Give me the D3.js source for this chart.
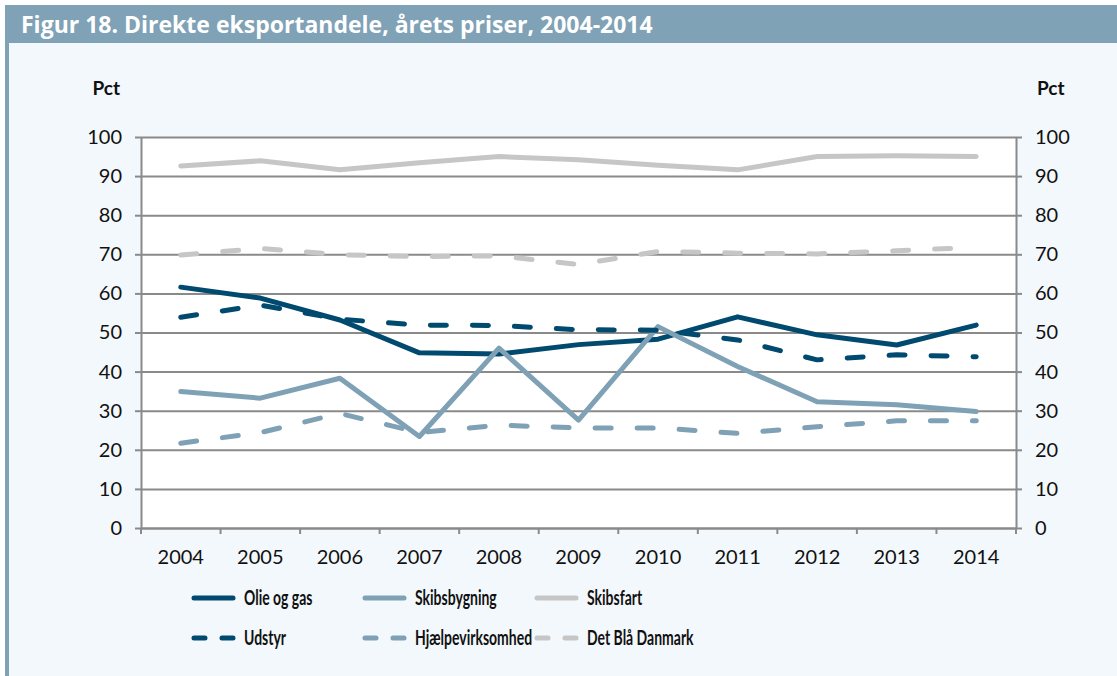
<!DOCTYPE html>
<html>
<head>
<meta charset="utf-8">
<script src="https://cdn.jsdelivr.net/npm/d3@7"></script>
<style>
  body { margin: 0; background: #ffffff; }
  svg { display: block; }
  text { font-family: Lato, "Noto Sans", sans-serif; }
</style>
</head>
<body>
<div id="content"></div>
<script>
// data
var years = ["2004","2005","2006","2007","2008","2009","2010","2011","2012","2013","2014"];
var olieOgGas       = [61.6, 58.8, 53.2, 44.8, 44.5, 46.9, 48.3, 54.0, 49.4, 46.8, 51.9];
var skibsbygning    = [34.9, 33.2, 38.3, 23.4, 46.0, 27.6, 51.5, 41.3, 32.3, 31.5, 29.8];
var skibsfart       = [92.6, 93.9, 91.6, 93.4, 95.0, 94.2, 92.8, 91.6, 95.0, 95.2, 95.0];
var udstyr          = [53.9, 57.0, 53.4, 51.9, 51.8, 50.7, 50.6, 48.1, 43.0, 44.3, 43.8];
var hjaelpevirksomhed = [21.7, 24.4, 29.3, 24.4, 26.3, 25.6, 25.6, 24.2, 25.9, 27.4, 27.4];
var detBlaaDanmark  = [69.8, 71.5, 69.9, 69.4, 69.6, 67.4, 70.7, 70.3, 70.1, 70.9, 71.8];
var yTicks = [0,10,20,30,40,50,60,70,80,90,100];

var title = "Figur 18. Direkte eksportandele, årets priser, 2004-2014";
var unitLabel = "Pct";

// layout
var width = 1117, height = 676;
var margin = {'left':141,'top':137,'right':101,'bottom':148};
var chart_width = width - margin['left'] - margin['right'];
var chart_height = height - margin['top'] - margin['bottom'];

var darkBlue = "#00496f", lightBlue = "#7fa1b5", grey = "#c6c6c6";
var axisGrey = "#8a8a8a";
var solidDash = null, lineDash = "16,26";

var series = [
  {name:"Olie og gas", values:olieOgGas, color:darkBlue, dash:solidDash},
  {name:"Skibsbygning", values:skibsbygning, color:lightBlue, dash:solidDash},
  {name:"Skibsfart", values:skibsfart, color:grey, dash:solidDash},
  {name:"Udstyr", values:udstyr, color:darkBlue, dash:lineDash},
  {name:"Hjælpevirksomhed", values:hjaelpevirksomhed, color:lightBlue, dash:lineDash},
  {name:"Det Blå Danmark", values:detBlaaDanmark, color:grey, dash:lineDash}
];

var svg = d3.select("#content").append("svg")
  .attr("width", width)
  .attr("height", height);

// frame: header band, left strip, light panel
svg.append("rect").attr("x",5).attr("y",5).attr("width",width-5).attr("height",38).attr("fill","#7fa2b6");
svg.append("rect").attr("x",5).attr("y",43).attr("width",width-5).attr("height",height-43).attr("fill","#f3f8fc");
svg.append("rect").attr("x",5).attr("y",43).attr("width",4).attr("height",height-43).attr("fill","#7fa2b6");

svg.append("text")
  .attr("x", 21).attr("y", 33)
  .attr("fill", "#ffffff")
  .attr("font-size", "23px")
  .attr("font-weight", "bold")
  .style("font-family", "'Open Sans', sans-serif")
  .text(title);

var x = d3.scaleBand().domain(years).range([0, chart_width]).padding(0);
var y = d3.scaleLinear().domain([0, 100]).range([chart_height, 0]);

var g = svg.append("g").attr("transform", "translate(" + margin['left'] + "," + margin['top'] + ")");

g.append("rect").attr("width", chart_width).attr("height", chart_height).attr("fill", "#ffffff");

// gridlines
var grid = g.append("g")
  .call(d3.axisLeft(y).tickValues(yTicks).tickSize(-chart_width).tickFormat(""));
grid.select(".domain").remove();
grid.selectAll("line").attr("stroke", axisGrey).attr("stroke-width", 2);

// left axis
var leftAxis = g.append("g")
  .call(d3.axisLeft(y).tickValues(yTicks).tickSize(6).tickPadding(13).tickSizeOuter(0));
// right axis
var rightAxis = g.append("g")
  .attr("transform", "translate(" + chart_width + ",0)")
  .call(d3.axisRight(y).tickValues(yTicks).tickSize(6).tickPadding(13).tickSizeOuter(0));

// bottom axis, labels at band centres, ticks at band edges
var bottomAxis = g.append("g")
  .attr("transform", "translate(0," + chart_height + ")")
  .call(d3.axisBottom(x).tickSize(0).tickPadding(22).tickSizeOuter(0));
bottomAxis.selectAll(".tick line").remove();
var edges = years.map(function(d){ return x(d); }).concat([chart_width]);
bottomAxis.selectAll(".edge")
  .data(edges)
  .enter()
  .append("line")
  .attr("x1", function(d){ return d; })
  .attr("x2", function(d){ return d; })
  .attr("y1", 0)
  .attr("y2", 6)
  .attr("stroke", axisGrey)
  .attr("stroke-width", 2);

[leftAxis, rightAxis, bottomAxis].forEach(function(a){
  a.select(".domain").attr("stroke", axisGrey).attr("stroke-width", 2);
  a.selectAll(".tick line").attr("stroke", axisGrey).attr("stroke-width", 2);
  a.selectAll("text").attr("font-size", "20px").attr("fill", "#111111")
    .style("font-family", "Lato, 'Noto Sans', sans-serif");
});

// unit labels
g.append("text").attr("x", -21).attr("y", -42).attr("text-anchor", "end")
  .attr("font-size", "19px").attr("font-weight", "bold").attr("fill", "#111").text(unitLabel);
g.append("text").attr("x", chart_width + 21).attr("y", -42).attr("text-anchor", "start")
  .attr("font-size", "19px").attr("font-weight", "bold").attr("fill", "#111").text(unitLabel);

// lines
var line = d3.line()
  .x(function(d,i){ return x(years[i]) + x.bandwidth()/2; })
  .y(function(d){ return y(d); });

g.selectAll(".series")
  .data(series)
  .enter()
  .append("path")
  .attr("class", "series")
  .attr("d", function(d){ return line(d.values); })
  .attr("fill", "none")
  .attr("stroke", function(d){ return d.color; })
  .attr("stroke-width", 5)
  .attr("stroke-linecap", "round")
  .attr("stroke-linejoin", "round")
  .attr("stroke-dasharray", function(d){ return d.dash; });

// legend, three columns, two rows
var legendX = [192, 363, 535];
var legendY = [598, 638];
var legend = svg.selectAll(".legend")
  .data(series)
  .enter()
  .append("g")
  .attr("class", "legend")
  .attr("transform", function(d,i){ return "translate(" + legendX[i%3] + "," + legendY[Math.floor(i/3)] + ")"; });

legend.append("line")
  .attr("x1", 2).attr("x2", 41).attr("y1", 0).attr("y2", 0)
  .attr("stroke", function(d){ return d.color; })
  .attr("stroke-width", 5)
  .attr("stroke-linecap", "round")
  .attr("stroke-dasharray", function(d){ return d.dash ? "11,17" : null; });

legend.append("text")
  .attr("transform", "translate(52,7) scale(0.7,1)")
  .attr("font-size", "20px")
  .attr("font-weight", "bold")
  .attr("fill", "#111111")
  .text(function(d){ return d.name; });
</script>
</body>
</html>
